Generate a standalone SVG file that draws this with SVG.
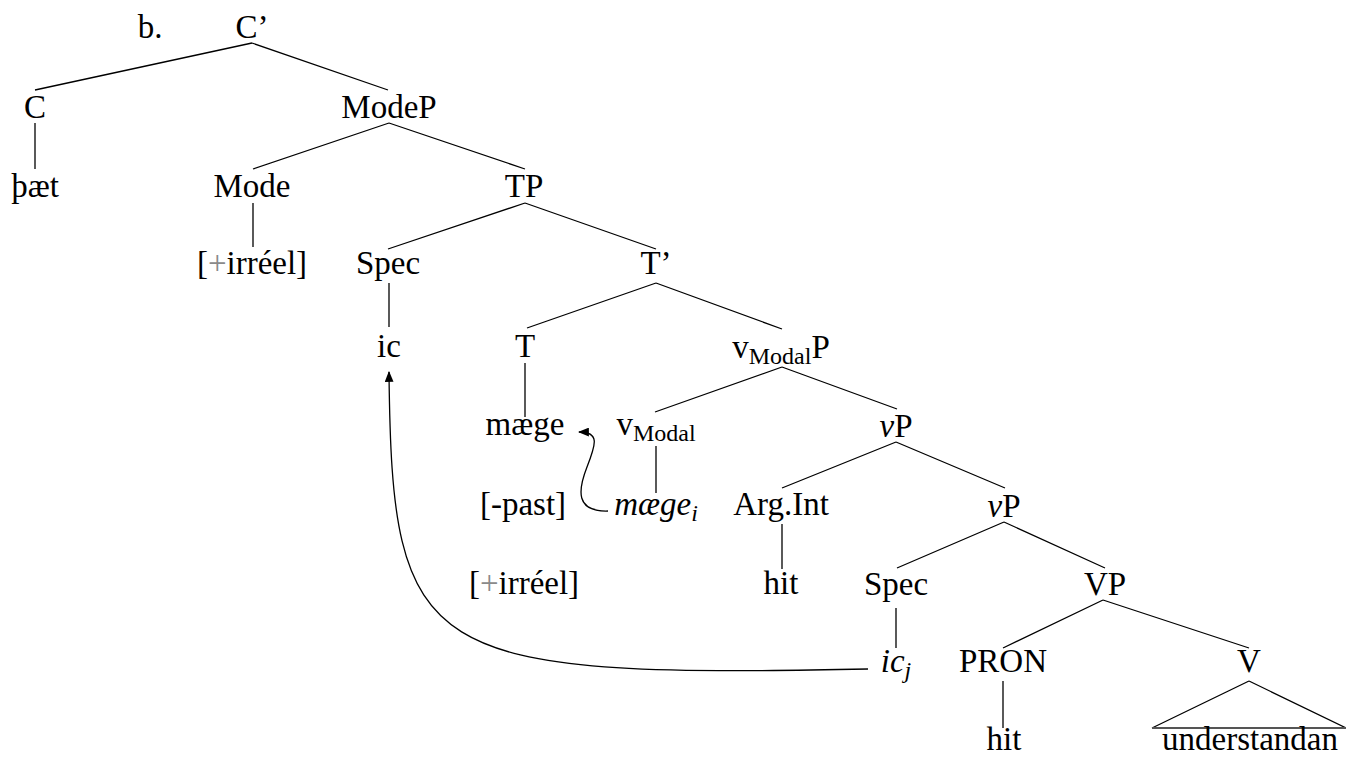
<svg xmlns="http://www.w3.org/2000/svg" width="1346" height="757" viewBox="0 0 1346 757">
<style>
text{font-family:"Liberation Serif","Times New Roman",serif;font-size:33px;fill:#000;text-anchor:middle}
.it{font-style:italic}
.sub{font-size:24px}
.plus{fill:#8a8a8a}
.edge{stroke:#000;stroke-width:1.3;fill:none}
.mv{stroke:#000;stroke-width:1.3;fill:none}
</style>
<defs>
<marker id="ah" viewBox="0 0 10 8" refX="9" refY="4" markerWidth="11" markerHeight="9" markerUnits="userSpaceOnUse" orient="auto">
<path d="M0,0 L10,4 L0,8 Z" fill="#000"/>
</marker>
</defs>
<rect width="1346" height="757" fill="#fff"/>
<g id="connectors">
<path class="edge" d="M252,43 L35,90 M252,43 L388,90"/>
<path class="edge" d="M35,123 L35,169"/>
<path class="edge" d="M389,123 L253,169 M389,123 L525,169"/>
<path class="edge" d="M253,203 L253,247"/>
<path class="edge" d="M525,203 L388,249 M525,203 L656,249"/>
<path class="edge" d="M389,283 L389,327"/>
<path class="edge" d="M656,283 L527,328 M656,283 L782,329"/>
<path class="edge" d="M525,363 L525,417"/>
<path class="edge" d="M782,367 L655,412 M782,367 L897,409"/>
<path class="edge" d="M656,446 L656,493"/>
<path class="edge" d="M896,442 L782,488 M896,442 L1005,488"/>
<path class="edge" d="M782,524 L782,569"/>
<path class="edge" d="M1004,522 L897,568 M1004,522 L1105,568"/>
<path class="edge" d="M896,608 L896,648"/>
<path class="edge" d="M1103,600 L1003,648 M1103,600 L1249,648"/>
<path class="edge" d="M1003,681 L1003,728"/>
<path class="edge" d="M1249,681 L1152,728 M1249,681 L1346,728"/>
<path d="M1152,728 L1346,728" stroke="#555" stroke-width="2.2" fill="none"/>
<path class="mv" d="M868,669 C420,678 392,660 389,372" marker-end="url(#ah)"/>
<path class="mv" d="M608,511 C575,512 578,490 587,467 C596,444 600,432 579,432" marker-end="url(#ah)"/>
</g>
<g id="label-b"><text x="150" y="38">b.</text></g>
<g id="n-Cbar"><text x="252" y="38">C’</text></g>
<g id="n-C"><text x="35" y="118">C</text></g>
<g id="n-ModeP"><text x="389" y="118">ModeP</text></g>
<g id="n-thaet"><text x="35" y="197">þæt</text></g>
<g id="n-Mode"><text x="252" y="197">Mode</text></g>
<g id="n-TP"><text x="524" y="197">TP</text></g>
<g id="n-irreel1"><text x="252" y="274">[<tspan class="plus">+</tspan>irréel]</text></g>
<g id="n-Spec1"><text x="388" y="274">Spec</text></g>
<g id="n-Tbar"><text x="656" y="274">T’</text></g>
<g id="n-ic"><text x="389" y="357">ic</text></g>
<g id="n-T"><text x="525" y="357">T</text></g>
<g id="n-vModalP"><text x="781" y="358">v<tspan class="sub" dy="6">Modal</tspan><tspan dy="-6">P</tspan></text></g>
<g id="n-maege"><text x="525" y="435">mæge</text></g>
<g id="n-vModal"><text x="656" y="435">v<tspan class="sub" dy="6">Modal</tspan></text></g>
<g id="n-vP1"><text x="896" y="437"><tspan class="it">v</tspan>P</text></g>
<g id="n-past"><text x="523" y="515">[-past]</text></g>
<g id="n-maegei"><text x="656" y="515" class="it">mæge<tspan class="sub" dy="6">i</tspan></text></g>
<g id="n-ArgInt"><text x="781" y="515">Arg.Int</text></g>
<g id="n-vP2"><text x="1004" y="517"><tspan class="it">v</tspan>P</text></g>
<g id="n-irreel2"><text x="524" y="594">[<tspan class="plus">+</tspan>irréel]</text></g>
<g id="n-hit1"><text x="781" y="594">hit</text></g>
<g id="n-Spec2"><text x="896" y="595">Spec</text></g>
<g id="n-VP"><text x="1105" y="595">VP</text></g>
<g id="n-icj"><text x="896" y="672" class="it">ic<tspan class="sub" dy="6">j</tspan></text></g>
<g id="n-PRON"><text x="1003" y="672">PRON</text></g>
<g id="n-V"><text x="1249" y="672">V</text></g>
<g id="n-hit2"><text x="1004" y="750">hit</text></g>
<g id="n-understandan"><text x="1250" y="750">understandan</text></g>
</svg>
